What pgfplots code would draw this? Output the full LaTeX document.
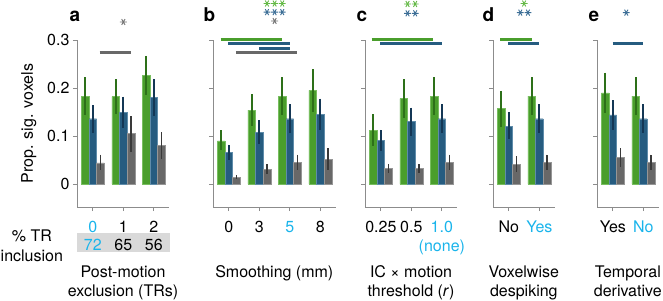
\documentclass[border=0pt]{standalone}
\usepackage{fontspec}
\setmainfont{TeX Gyre Heros}
\usepackage{pgfplots}
\pgfplotsset{compat=1.18}
\definecolor{cG}{RGB}{74,158,44}
\definecolor{cGl}{RGB}{120,190,95}
\definecolor{cGd}{RGB}{45,112,25}
\definecolor{cB}{RGB}{38,92,128}
\definecolor{cBl}{RGB}{95,140,170}
\definecolor{cBd}{RGB}{20,55,85}
\definecolor{cY}{RGB}{104,104,104}
\definecolor{cYl}{RGB}{150,150,150}
\definecolor{cYd}{RGB}{58,58,58}
\definecolor{sG}{RGB}{100,185,70}
\definecolor{sB}{RGB}{60,110,150}
\definecolor{sY}{RGB}{115,115,115}
\definecolor{axgray}{RGB}{140,140,140}
\definecolor{cyanT}{RGB}{25,180,235}
\definecolor{boxgray}{RGB}{217,217,217}
\pgfplotsset{
 panel/.style={
  scale only axis, height=167pt, ymin=-0.0479, ymax=0.3,
  xmin=-0.52, clip=false, anchor=south west,
  axis x line*=bottom, axis y line*=left,
  axis line style={-, draw=axgray, line width=0.9pt},
  ytick={0,0.1,0.2,0.3},
  tick style={draw=axgray, line width=0.9pt},
  major tick length=4pt, tick align=outside,
  /pgf/number format/assume math mode=true,
  tick label style={font=\fontsize{16}{19.5}\selectfont},
  xticklabel style={anchor=base, yshift=-21pt},
 },
 gbar/.style={ybar, bar width=7.6pt, bar shift=0pt, fill=cG, draw=cGl, line width=0.4pt,
   error bars/.cd, y dir=both, y explicit, error mark=none, error bar style={line width=1.8pt, draw=cGd}},
 bbar/.style={ybar, bar width=7.6pt, bar shift=0pt, fill=cB, draw=cBl, line width=0.4pt,
   error bars/.cd, y dir=both, y explicit, error mark=none, error bar style={line width=1.8pt, draw=cBd}},
 ybarg/.style={ybar, bar width=7.6pt, bar shift=0pt, fill=cY, draw=cYl, line width=0.4pt,
   error bars/.cd, y dir=both, y explicit, error mark=none, error bar style={line width=1.8pt, draw=cYd}},
 sig/.style={line width=3pt, mark=none, line cap=butt},
 star/.style={only marks, mark=asterisk, mark size=3.4pt, mark options={rotate=90, line width=0.9pt, draw=#1}},
}
\tikzset{plet/.style={anchor=base west, font=\fontsize{19}{22}\bfseries\selectfont, yshift=18pt},
 xl/.style={anchor=base, font=\fontsize{16}{19.5}\selectfont}}
\begin{document}
\begin{tikzpicture}[x=1pt,y=1pt,font=\fontsize{16}{19.5}\selectfont]
% ---------------- a
\begin{axis}[panel, at={(77pt,93pt)}, width=92.1pt, xmax=2.5,
  xtick={0,1,2}, xticklabels={\textcolor{cyanT}{0},1,2}]
\addplot[gbar] coordinates {(-0.25,0.182) += (0,0.040) -= (0,0.039) (0.75,0.182) += (0,0.036) -= (0,0.037) (1.75,0.226) += (0,0.041) -= (0,0.041)};
\addplot[bbar] coordinates {(0,0.136) += (0,0.029) -= (0,0.030) (1,0.150) += (0,0.032) -= (0,0.033) (2,0.180) += (0,0.039) -= (0,0.039)};
\addplot[ybarg] coordinates {(0.25,0.044) += (0,0.017) -= (0,0.015) (1.25,0.106) += (0,0.035) -= (0,0.039) (2.25,0.081) += (0,0.027) -= (0,0.028)};
\addplot[sig, draw=cY] coordinates {(0.22,0.274) (1.25,0.274)};
\addplot[star=sY] coordinates {(1.0,0.3375)};
\fill[boxgray] (axis cs:-0.52,-0.1027) rectangle (axis cs:2.53,-0.141);
\node[xl, yshift=-43pt] at (axis cs:0,-0.0479) {\textcolor{cyanT}{72}};
\node[xl, yshift=-43pt] at (axis cs:1,-0.0479) {65};
\node[xl, yshift=-43pt] at (axis cs:2,-0.0479) {56};
\node[xl, yshift=-34pt] at (axis cs:-2.0,-0.0479) {\% TR};
\node[xl, yshift=-54pt] at (axis cs:-2.0,-0.0479) {inclusion};
\node[xl, rotate=90] at (axis cs:-1.97,0.126) {Prop. sig. voxels};
\node[xl, yshift=-70pt] at (rel axis cs:0.5,0) {Post-motion};
\node[xl, yshift=-89.5pt] at (rel axis cs:0.5,0) {exclusion (TRs)};
\node[plet, xshift=-11pt] at (rel axis cs:0,1) {a};
\end{axis}
% ---------------- b
\begin{axis}[panel, at={(213pt,93pt)}, width=122.6pt, xmax=3.5, yticklabels={},
  xtick={0,1,2,3}, xticklabels={0,3,\textcolor{cyanT}{5},8}]
\addplot[gbar] coordinates {(-0.25,0.090) += (0,0.022) -= (0,0.020) (0.75,0.154) += (0,0.033) -= (0,0.034) (1.75,0.183) += (0,0.039) -= (0,0.040) (2.75,0.195) += (0,0.044) -= (0,0.045)};
\addplot[bbar] coordinates {(0,0.066) += (0,0.016) -= (0,0.017) (1,0.108) += (0,0.025) -= (0,0.025) (2,0.136) += (0,0.030) -= (0,0.030) (3,0.145) += (0,0.033) -= (0,0.032)};
\addplot[ybarg] coordinates {(0.25,0.014) += (0,0.005) -= (0,0.004) (1.25,0.031) += (0,0.010) -= (0,0.011) (2.25,0.045) += (0,0.016) -= (0,0.016) (3.25,0.052) += (0,0.023) -= (0,0.023)};
\addplot[sig, draw=cG] coordinates {(-0.27,0.301) (1.73,0.301)};
\addplot[sig, draw=cB] coordinates {(-0.02,0.2925) (2.0,0.2925)};
\addplot[sig, draw=cB] coordinates {(1.0,0.283) (2.0,0.283)};
\addplot[sig, draw=cY] coordinates {(0.23,0.274) (2.24,0.274)};
\addplot[star=sG] coordinates {(1.25,0.376) (1.5,0.376) (1.75,0.376)};
\addplot[star=sB] coordinates {(1.25,0.358) (1.5,0.358) (1.75,0.358)};
\addplot[star=sY] coordinates {(1.5,0.3396)};
\node[xl, yshift=-70pt] at (rel axis cs:0.5,0) {Smoothing (mm)};
\node[plet, xshift=-13pt] at (rel axis cs:0,1) {b};
\end{axis}
% ---------------- c
\begin{axis}[panel, at={(365pt,93pt)}, width=92.1pt, xmax=2.5, yticklabels={},
  xtick={0,1,2}, xticklabels={0.25,0.5,{\color{cyanT}\begin{tabular}[t]{@{}c@{}}1.0\\(none)\end{tabular}}}]
\addplot[gbar] coordinates {(-0.25,0.112) += (0,0.033) -= (0,0.033) (0.75,0.178) += (0,0.040) -= (0,0.040) (1.75,0.183) += (0,0.039) -= (0,0.040)};
\addplot[bbar] coordinates {(0,0.091) += (0,0.022) -= (0,0.022) (1,0.130) += (0,0.029) -= (0,0.030) (2,0.136) += (0,0.030) -= (0,0.030)};
\addplot[ybarg] coordinates {(0.25,0.033) += (0,0.009) -= (0,0.010) (1.25,0.033) += (0,0.009) -= (0,0.010) (2.25,0.045) += (0,0.016) -= (0,0.016)};
\addplot[sig, draw=cG] coordinates {(-0.3,0.301) (1.72,0.301)};
\addplot[sig, draw=cB] coordinates {(-0.03,0.292) (1.99,0.292)};
\addplot[star=sG] coordinates {(0.875,0.375) (1.125,0.375)};
\addplot[star=sB] coordinates {(0.875,0.3556) (1.125,0.3556)};
\node[xl, yshift=-70pt] at (rel axis cs:0.5,0) {IC × motion};
\node[xl, yshift=-89.5pt] at (rel axis cs:0.5,0) {threshold (\textit{r})};
\node[plet, xshift=-12pt] at (rel axis cs:0,1) {c};
\end{axis}
% ---------------- d
\begin{axis}[panel, at={(493pt,93pt)}, width=61.6pt, xmax=1.5, yticklabels={},
  xtick={0,1}, xticklabels={No,\textcolor{cyanT}{Yes}}]
\addplot[gbar] coordinates {(-0.25,0.157) += (0,0.037) -= (0,0.038) (0.75,0.183) += (0,0.039) -= (0,0.040)};
\addplot[bbar] coordinates {(0,0.120) += (0,0.029) -= (0,0.027) (1,0.136) += (0,0.030) -= (0,0.030)};
\addplot[ybarg] coordinates {(0.25,0.041) += (0,0.017) -= (0,0.016) (1.25,0.045) += (0,0.016) -= (0,0.016)};
\addplot[sig, draw=cG] coordinates {(-0.29,0.301) (0.75,0.301)};
\addplot[sig, draw=cB] coordinates {(-0.02,0.292) (1.0,0.292)};
\addplot[star=sG] coordinates {(0.5,0.376)};
\addplot[star=sB] coordinates {(0.375,0.357) (0.625,0.357)};
\node[xl, yshift=-70pt] at (rel axis cs:0.5,0) {Voxelwise};
\node[xl, yshift=-89.5pt] at (rel axis cs:0.5,0) {despiking};
\node[plet, xshift=-14pt] at (rel axis cs:0,1) {d};
\end{axis}
% ---------------- e
\begin{axis}[panel, at={(597pt,93pt)}, width=61.6pt, xmax=1.5, yticklabels={},
  xtick={0,1}, xticklabels={Yes,\textcolor{cyanT}{No}}]
\addplot[gbar] coordinates {(-0.25,0.190) += (0,0.042) -= (0,0.042) (0.75,0.183) += (0,0.039) -= (0,0.040)};
\addplot[bbar] coordinates {(0,0.144) += (0,0.031) -= (0,0.031) (1,0.136) += (0,0.030) -= (0,0.030)};
\addplot[ybarg] coordinates {(0.25,0.055) += (0,0.019) -= (0,0.020) (1.25,0.045) += (0,0.016) -= (0,0.016)};
\addplot[sig, draw=cB] coordinates {(-0.01,0.292) (1.0,0.292)};
\addplot[star=sB] coordinates {(0.44,0.357)};
\node[xl, yshift=-70pt] at (rel axis cs:0.5,0) {Temporal};
\node[xl, yshift=-89.5pt] at (rel axis cs:0.5,0) {derivative};
\node[plet, xshift=-12pt] at (rel axis cs:0,1) {e};
\end{axis}
\pgfresetboundingbox
\useasboundingbox (0,0) rectangle (663,300);
\end{tikzpicture}
\end{document}
